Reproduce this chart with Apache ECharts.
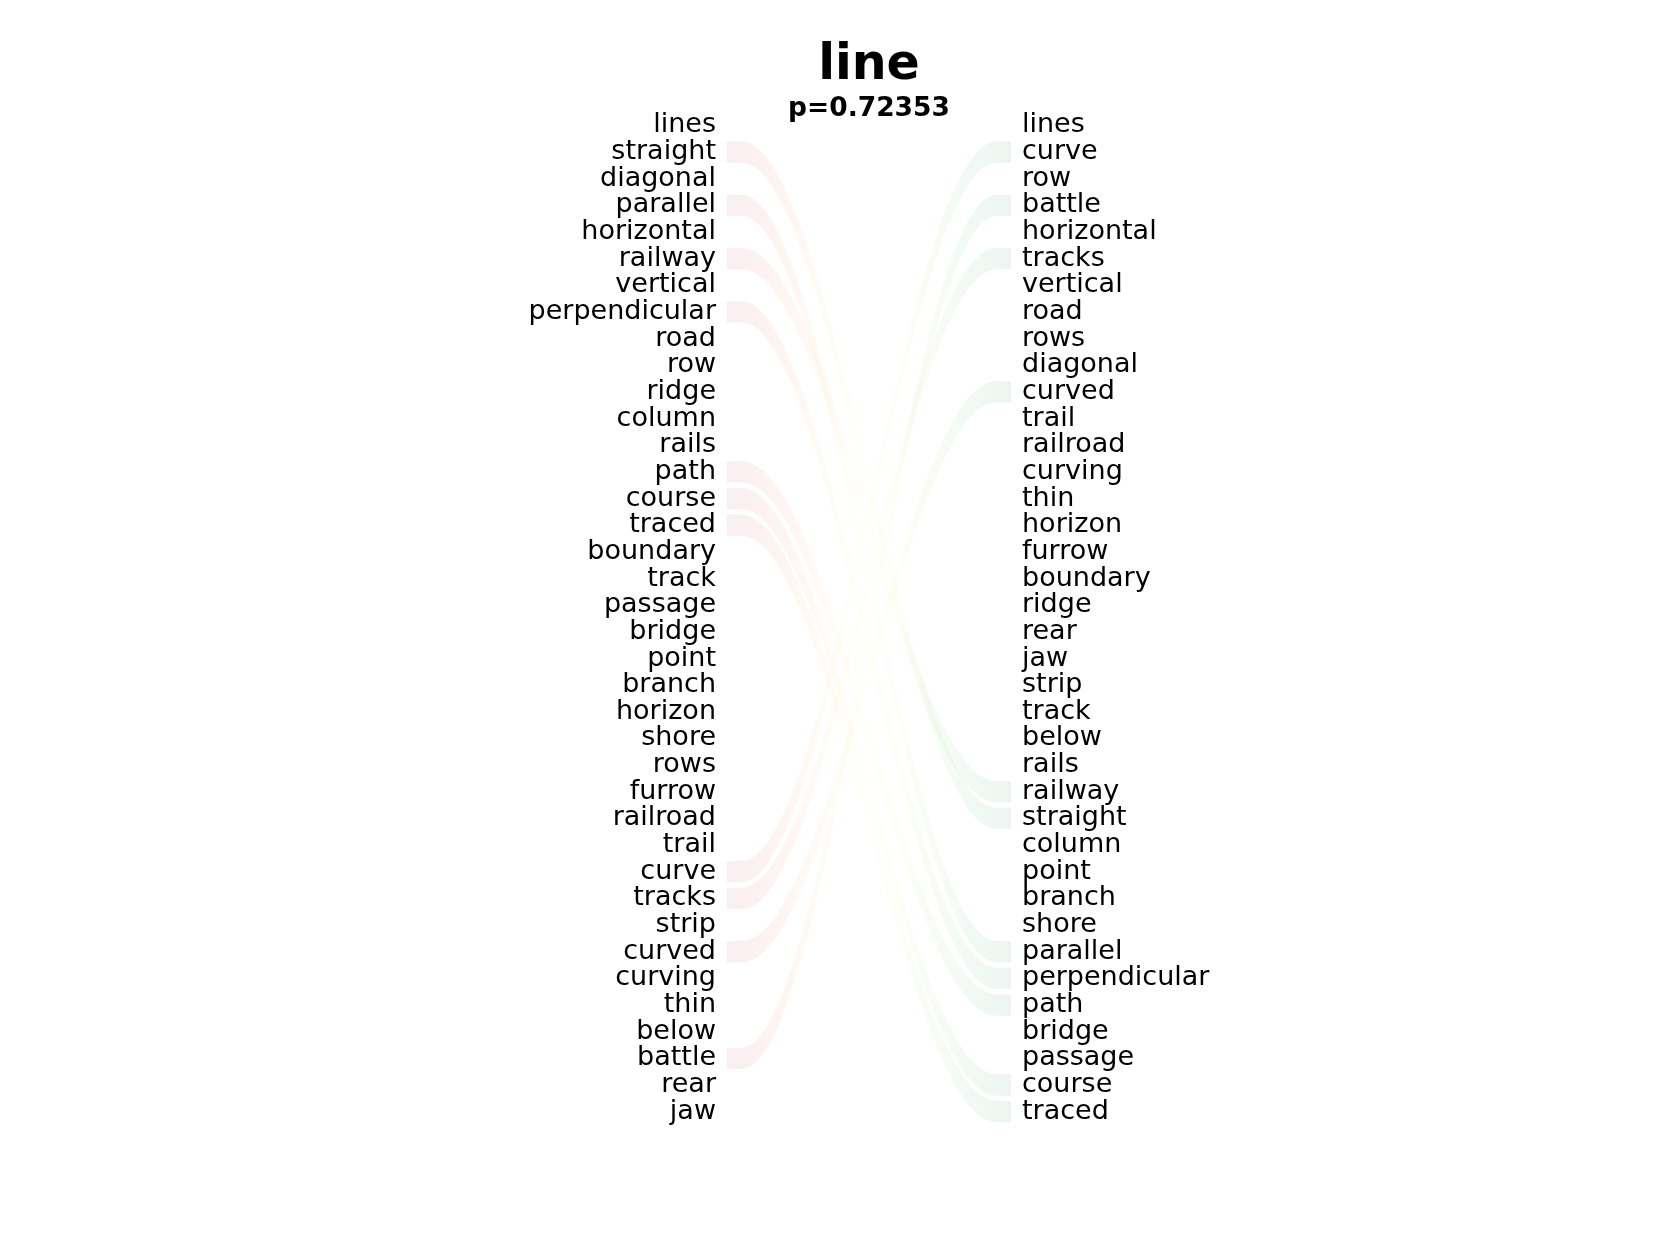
<!DOCTYPE html>
<html>
<head>
<meta charset="utf-8">
<script src="https://cdn.jsdelivr.net/npm/echarts@6/dist/echarts.min.js"></script>
<style>
html,body{margin:0;padding:0;background:#fff;}
#chart{width:1680px;height:1260px;}
</style>
</head>
<body>
<div id="chart"></div>
<script>
const titleText = 'line';
const subtitleText = 'p=0.72353';

const leftWords = ['lines','straight','diagonal','parallel','horizontal','railway','vertical','perpendicular','road','row','ridge','column','rails','path','course','traced','boundary','track','passage','bridge','point','branch','horizon','shore','rows','furrow','railroad','trail','curve','tracks','strip','curved','curving','thin','below','battle','rear','jaw'];

const rightWords = ['lines','curve','row','battle','horizontal','tracks','vertical','road','rows','diagonal','curved','trail','railroad','curving','thin','horizon','furrow','boundary','ridge','rear','jaw','strip','track','below','rails','railway','straight','column','point','branch','shore','parallel','perpendicular','path','bridge','passage','course','traced'];

const linkedWords = ['straight','parallel','railway','perpendicular','path','course','traced','curve','tracks','curved','battle'];

const rdylgn = ['#a50026','#d73027','#f46d43','#fdae61','#fee08b','#ffffbf','#d9ef8b','#a6d96a','#66bd63','#1a9850','#006837'];

const linkData = linkedWords.map(w => [leftWords.indexOf(w), rightWords.indexOf(w)]);

function withAlpha(hex, a) {
  const r = parseInt(hex.slice(1,3),16), g = parseInt(hex.slice(3,5),16), b = parseInt(hex.slice(5,7),16);
  return 'rgba(' + r + ',' + g + ',' + b + ',' + a + ')';
}

const FONT = 'DejaVu Sans';
const chart = echarts.init(document.getElementById('chart'), null, {renderer: 'canvas'});

const option = {
  backgroundColor: '#ffffff',
  animation: false,
  title: [
    {text: titleText, left: 869, top: 42, textAlign: 'center', padding: 0,
     textStyle: {fontFamily: FONT, fontWeight: 'bold', fontSize: 49, color: '#000'}},
    {text: subtitleText, left: 869, top: 96, textAlign: 'center', padding: 0,
     textStyle: {fontFamily: FONT, fontWeight: 'bold', fontSize: 26.5, color: '#000'}}
  ],
  grid: {left: 727, right: 669, top: 112, bottom: 135, containLabel: false},
  xAxis: {type: 'value', min: 0, max: 1, show: false},
  yAxis: [
    {type: 'category', data: leftWords, inverse: true, position: 'left',
     axisLine: {show: false}, axisTick: {show: false}, splitLine: {show: false},
     axisLabel: {interval: 0, margin: 11, fontFamily: FONT, fontSize: 27, color: '#000'}},
    {type: 'category', data: rightWords, inverse: true, position: 'right',
     axisLine: {show: false}, axisTick: {show: false}, splitLine: {show: false},
     axisLabel: {interval: 0, margin: 11, fontFamily: FONT, fontSize: 27, color: '#000'}}
  ],
  series: [{
    type: 'custom',
    coordinateSystem: 'cartesian2d',
    xAxisIndex: 0,
    yAxisIndex: 0,
    clip: false,
    silent: true,
    data: linkData,
    renderItem: function (params, api) {
      const li = api.value(0), ri = api.value(1);
      const p0 = api.coord([0, li]);
      const p1 = api.coord([1, ri]);
      const step = Math.abs(api.coord([0, 1])[1] - api.coord([0, 0])[1]);
      const half = step * 0.4;
      const N = 120;
      const top = [], bot = [];
      for (let k = 0; k <= N; k++) {
        const t = k / N;
        const x = p0[0] + (p1[0] - p0[0]) * t;
        let u = (t - 0.05) / 0.9;
        u = Math.max(0, Math.min(1, u));
        const s = (1 - Math.cos(Math.PI * u)) / 2;
        const y = p0[1] + (p1[1] - p0[1]) * s;
        top.push([x, y - half]);
        bot.push([x, y + half]);
      }
      const pts = top.concat(bot.reverse());
      const stops = rdylgn.map((c, i) => ({offset: i / (rdylgn.length - 1), color: withAlpha(c, 0.065)}));
      return {
        type: 'polygon',
        shape: {points: pts},
        style: {fill: new echarts.graphic.LinearGradient(p0[0], 0, p1[0], 0, stops, true)}
      };
    }
  }]
};
chart.setOption(option);
</script>
</body>
</html>
